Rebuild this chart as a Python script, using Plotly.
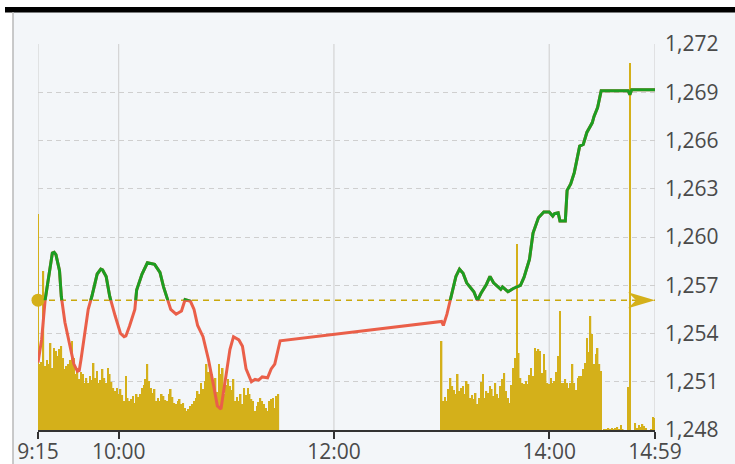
import pandas as pd
import plotly.graph_objects as go

DAY = "2024-06-14"
REF_PRICE = 1256.07
PRICE_MIN, PRICE_MAX = 1248, 1272
Y_TICKS = [1248, 1251, 1254, 1257, 1260, 1263, 1266, 1269, 1272]
X_TICKS = ["09:15", "10:00", "12:00", "14:00", "14:59"]

# intraday index path (time, level)
PRICE_TIMES = [
    "09:15", "09:17", "09:19", "09:21", "09:23", "09:24", "09:25", "09:27", "09:28", "09:30",
    "09:33", "09:35", "09:37", "09:38", "09:39", "09:41", "09:43", "09:45", "09:48", "09:50",
    "09:51", "09:53", "09:55", "09:58", "10:01", "10:03", "10:04", "10:06", "10:09", "10:10",
    "10:13", "10:16", "10:18", "10:20", "10:23", "10:25", "10:27", "10:29", "10:32", "10:35",
    "10:37", "10:39", "10:40", "10:42", "10:44", "10:47", "10:50", "10:53", "10:55", "10:57",
    "10:59", "11:02", "11:04", "11:07", "11:09", "11:11", "11:14", "11:16", "11:18", "11:20",
    "11:23", "11:25", "11:27", "11:29", "11:30",
    "13:00", "13:01", "13:03", "13:05", "13:08", "13:10", "13:12", "13:14", "13:16", "13:18",
    "13:20", "13:22", "13:25", "13:27", "13:29", "13:31", "13:33", "13:34", "13:37", "13:40",
    "13:44", "13:46", "13:49", "13:51", "13:54", "13:57", "14:00", "14:02", "14:03", "14:05",
    "14:06", "14:09", "14:10", "14:12", "14:14", "14:17", "14:19", "14:21", "14:24", "14:25",
    "14:27", "14:29", "14:44", "14:45", "14:46", "14:59",
]
PRICE_VALUES = [
    1252.2, 1253.6, 1256.1, 1257.6, 1259.0, 1259.05, 1258.9, 1257.9, 1256.3, 1254.7,
    1253.2, 1252.1, 1251.65, 1251.7, 1252.4, 1254.0, 1255.5, 1256.3, 1257.7, 1258.0,
    1257.95, 1257.55, 1256.3, 1255.1, 1254.0, 1253.8, 1253.85, 1254.45, 1255.5, 1256.7,
    1257.7, 1258.4, 1258.35, 1258.3, 1257.8, 1256.9, 1256.2, 1255.5, 1255.2, 1255.4,
    1256.1, 1256.05, 1256.0, 1255.5, 1254.5, 1253.8, 1252.4, 1250.7, 1249.5, 1249.3,
    1250.7, 1253.0, 1253.8, 1253.6, 1253.2, 1251.8, 1251.0, 1251.15, 1251.1, 1251.3,
    1251.25, 1251.8, 1252.1, 1253.0, 1253.55,
    1254.75, 1254.5, 1255.2, 1256.1, 1257.55, 1258.0, 1257.75, 1257.15, 1256.9, 1256.6,
    1256.05, 1256.5, 1257.05, 1257.55, 1257.15, 1256.95, 1256.75, 1256.9, 1256.6, 1256.8,
    1257.0, 1257.5, 1258.6, 1260.25, 1261.2, 1261.55, 1261.55, 1261.3, 1261.45, 1261.5,
    1261.0, 1261.0, 1262.9, 1263.3, 1264.0, 1265.65, 1265.75, 1266.5, 1267.1, 1267.5,
    1268.05, 1269.1, 1269.1, 1268.85, 1269.15, 1269.15,
]

# per-minute volume, 09:15 - 11:29
VOL_MORNING = [
    216, 66, 68, 159, 64, 70, 66, 87, 62, 82, 79, 74, 81, 84, 72, 61, 64, 66, 70, 89,
    72, 56, 62, 51, 58, 56, 47, 52, 47, 54, 50, 67, 52, 59, 47, 50, 61, 52, 47, 62,
    56, 48, 42, 39, 42, 36, 41, 35, 29, 54, 32, 29, 31, 34, 27, 36, 33, 36, 42, 45,
    51, 66, 49, 42, 37, 41, 29, 32, 29, 36, 34, 30, 29, 36, 41, 33, 27, 26, 29, 31,
    26, 27, 22, 19, 21, 24, 26, 29, 32, 39, 36, 47, 41, 49, 66, 58, 61, 56, 47, 52,
    38, 66, 56, 62, 36, 45, 51, 44, 40, 51, 29, 33, 29, 36, 26, 42, 35, 42, 36, 31,
    29, 19, 24, 28, 32, 29, 26, 22, 19, 29, 31, 32, 22, 34, 36,
]
# per-minute volume, 13:00 - 14:29
VOL_AFTERNOON = [
    89, 29, 33, 29, 41, 52, 44, 40, 36, 56, 39, 42, 44, 36, 49, 46, 32, 35, 31, 37,
    26, 32, 48, 56, 32, 39, 37, 44, 41, 34, 47, 36, 32, 44, 51, 57, 39, 32, 27, 45,
    62, 72, 186, 77, 52, 47, 46, 49, 46, 55, 62, 54, 82, 79, 81, 79, 57, 76, 60, 47,
    46, 52, 47, 49, 58, 74, 119, 47, 47, 51, 47, 42, 47, 66, 47, 40, 52, 54, 54, 61,
    67, 92, 78, 114, 96, 66, 76, 82, 66, 59,
]
# per-minute volume, 14:30 - 14:59 (ATC at 14:45)
VOL_CLOSE = [
    0, 1, 1, 2, 1, 2, 1, 2, 3, 1, 5, 1, 0, 0, 43, 367, 0, 0, 7, 2,
    5, 3, 6, 4, 2, 0, 0, 1, 13, 12,
]
VOLUME_AXIS_MAX = 386

BG = "#F3F6F9"
GOLD = "#D4B01A"
GREEN = "#1C9E22"
RED = "#EA5F49"


def ts(hm):
    return pd.Timestamp(f"{DAY} {hm}")


# plot area in pixels, used to place the page decorations
PLOT_L, PLOT_R, PLOT_T, PLOT_B = 38, 655, 44, 430


def px_x(px):
    return (px - PLOT_L) / (PLOT_R - PLOT_L)


def px_y(py):
    return (PLOT_B - py) / (PLOT_B - PLOT_T)


price_x = [ts(t) for t in PRICE_TIMES]
vol_x = (list(pd.date_range(ts("09:15"), periods=len(VOL_MORNING), freq="min"))
         + list(pd.date_range(ts("13:00"), periods=len(VOL_AFTERNOON), freq="min"))
         + list(pd.date_range(ts("14:30"), periods=len(VOL_CLOSE), freq="min")))
vol_y = VOL_MORNING + VOL_AFTERNOON + VOL_CLOSE

fig = go.Figure()

fig.add_trace(go.Bar(x=vol_x, y=vol_y, yaxis="y", marker=dict(color=GOLD, line=dict(width=0)),
                     hoverinfo="skip"))

# reference level
fig.add_trace(go.Scatter(x=[ts("09:15"), ts("14:59")], y=[REF_PRICE, REF_PRICE], yaxis="y2",
                         mode="lines", line=dict(color="#C9A80C", width=1.5, dash="6px,5px"),
                         hoverinfo="skip"))

# below-reference part (red), full path
fig.add_trace(go.Scatter(x=price_x, y=PRICE_VALUES, yaxis="y2", mode="lines",
                         line=dict(color=RED, width=3)))
# above-reference part (green): same path on an axis clipped at the reference
fig.add_trace(go.Scatter(x=price_x, y=PRICE_VALUES, yaxis="y3", mode="lines",
                         line=dict(color=GREEN, width=3)))

fig.add_trace(go.Scatter(x=[ts("09:15")], y=[REF_PRICE], yaxis="y2", mode="markers",
                         marker=dict(color=GOLD, size=13), cliponaxis=False, hoverinfo="skip"))

shapes = []
for t in X_TICKS:
    shapes.append(dict(type="line", xref="x", yref="paper", x0=ts(t), x1=ts(t), y0=0, y1=1,
                       line=dict(color="#CDCDCD", width=1), layer="below"))
# arrow at the right end of the reference line
shapes.append(dict(type="path", xref="x", yref="y2", xsizemode="pixel", ysizemode="pixel",
                   xanchor=ts("14:59"), yanchor=REF_PRICE,
                   path="M0,0 L-27,8 L-19,0 L-27,-8 Z",
                   fillcolor=GOLD, line=dict(width=0)))
# page frame: white margins, black strip on top, grey border on the left
shapes += [
    dict(type="rect", xref="paper", yref="paper", x0=px_x(0), x1=px_x(13), y0=px_y(464), y1=px_y(0),
         fillcolor="white", line=dict(width=0), layer="below"),
    dict(type="rect", xref="paper", yref="paper", x0=px_x(0), x1=px_x(735), y0=px_y(7), y1=px_y(0),
         fillcolor="white", line=dict(width=0), layer="below"),
    dict(type="rect", xref="paper", yref="paper", x0=px_x(5), x1=px_x(735), y0=px_y(12.5), y1=px_y(7),
         fillcolor="black", line=dict(width=0)),
    dict(type="line", xref="paper", yref="paper", x0=px_x(13), x1=px_x(13), y0=px_y(464), y1=px_y(12),
         line=dict(color="#B9B9B9", width=1.5)),
]

fig.update_layout(
    width=735, height=464,
    margin=dict(l=PLOT_L, r=735 - PLOT_R, t=PLOT_T, b=464 - PLOT_B, autoexpand=False),
    paper_bgcolor=BG, plot_bgcolor="rgba(0,0,0,0)",
    showlegend=False, bargap=0.12,
    font=dict(family="Open Sans", size=21, color="#4A4A4A"),
    shapes=shapes,
    xaxis=dict(type="date", range=[ts("09:15"), ts("14:59")],
               tickvals=[ts(t) for t in X_TICKS], ticktext=[t.lstrip("0") for t in X_TICKS],
               showgrid=False, zeroline=False, showline=True, linecolor="#333333", linewidth=2,
               ticks="outside", ticklen=7, tickwidth=1.5, tickcolor="#333333", anchor="y",
               ticklabelstandoff=-5, automargin=False),
    yaxis=dict(range=[0, VOLUME_AXIS_MAX], visible=False, fixedrange=True, automargin=False),
    yaxis2=dict(overlaying="y", side="right", anchor="x", range=[PRICE_MIN, PRICE_MAX],
                tickvals=Y_TICKS, tickformat=",d", showgrid=True, gridcolor="#CFCFCF",
                griddash="5px,4px", gridwidth=1, zeroline=False, showline=False,
                ticks="", ticklabelstandoff=9, automargin=False),
    yaxis3=dict(domain=[(REF_PRICE - PRICE_MIN) / (PRICE_MAX - PRICE_MIN), 1],
                range=[REF_PRICE, PRICE_MAX], visible=False, anchor="x", automargin=False),
)

fig.write_html("out.html", config={"displayModeBar": False},
               post_script="document.body.style.margin='0';")
